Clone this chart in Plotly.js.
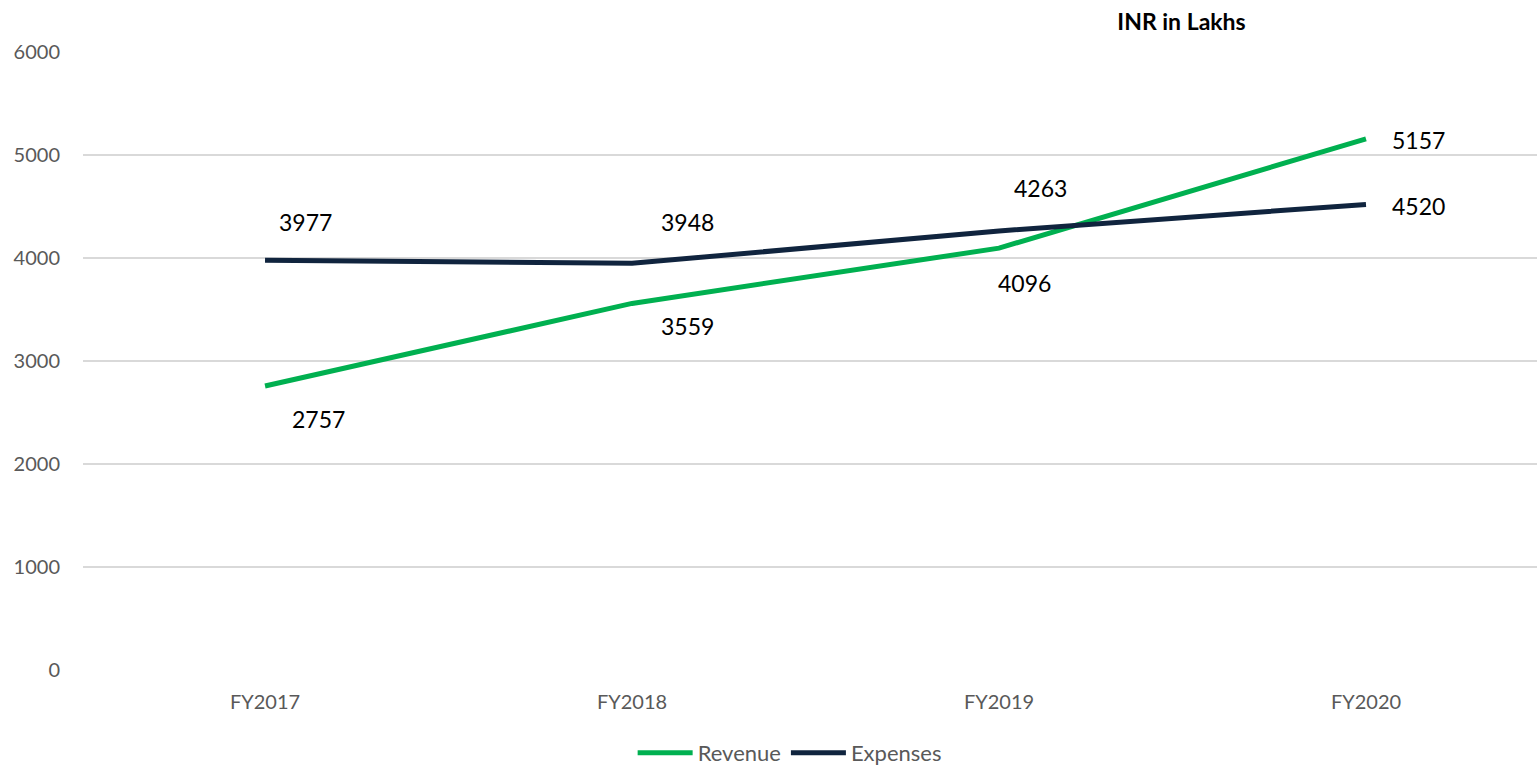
<!DOCTYPE html>
<html>
<head>
<meta charset="utf-8">
<script src="https://cdn.plot.ly/plotly-3.0.1.min.js"></script>
<style>html,body{margin:0;padding:0;background:#fff;}#chart{width:1538px;height:766px;}</style>
</head>
<body>
<div id="chart"></div>
<script>
const categories = ["FY2017", "FY2018", "FY2019", "FY2020"];
const revenue = [2757, 3559, 4096, 5157];
const expenses = [3977, 3948, 4263, 4520];
const yTicks = [0, 1000, 2000, 3000, 4000, 5000, 6000];

// label placement (pixel offsets from each point), style only
const revOffsets = [[25, -33], [27, -23], [-3, -35], [24, -1]];
const expOffsets = [[12, 38], [27, 41], [13, 43], [24, -2]];

const FONT = "Lato, 'Open Sans', sans-serif";
const GREEN = "#00B050";
const NAVY = "#10243E";

const traces = [
  {x: categories, y: revenue, name: "Revenue", type: "scatter", mode: "lines",
   line: {color: GREEN, width: 5}, hoverinfo: "skip"},
  {x: categories, y: expenses, name: "Expenses", type: "scatter", mode: "lines",
   line: {color: NAVY, width: 5}, hoverinfo: "skip"}
];

const annotations = [];
function addLabels(vals, offs) {
  vals.forEach((v, i) => {
    annotations.push({x: categories[i], y: v, xref: "x", yref: "y", text: String(v),
      showarrow: false, xanchor: "left", yanchor: "middle",
      xshift: offs[i][0], yshift: offs[i][1],
      font: {family: FONT, size: 23, color: "#000"}});
  });
}
addLabels(revenue, revOffsets);
addLabels(expenses, expOffsets);

const layout = {
  width: 1538, height: 766,
  paper_bgcolor: "#fff", plot_bgcolor: "#fff",
  margin: {l: 83, r: 1, t: 52, b: 96, autoexpand: false},
  title: {text: "<b>INR in Lakhs</b>", x: 1162 / 1538, xanchor: "center", xref: "paper",
    y: 1 - 22 / 766, yanchor: "middle", yref: "container",
    font: {family: FONT, size: 23, color: "#000"}},
  showlegend: true,
  legend: {orientation: "h", x: 0.486, xanchor: "center", y: 1 - 753 / 766, yanchor: "middle",
    yref: "container",
    font: {family: FONT, size: 22, color: "#595959"}, itemwidth: 55, tracegroupgap: 0},
  xaxis: {type: "category", range: [-0.496, 3.466], showgrid: false, zeroline: false,
    showline: false, ticks: "", ticklabelstandoff: 18, automargin: false,
    tickfont: {family: FONT, size: 20, color: "#595959"}},
  yaxis: {range: [0, 6000], tickvals: yTicks, ticktext: yTicks.map(String), automargin: false,
    showgrid: true, gridcolor: "#D9D9D9", gridwidth: 1.5, zeroline: false, showline: false,
    ticks: "", ticklabelstandoff: 22, tickfont: {family: FONT, size: 20, color: "#595959"}},
  annotations: annotations
};

Plotly.newPlot("chart", traces, layout, {displayModeBar: false, staticPlot: true});
</script>
</body>
</html>
